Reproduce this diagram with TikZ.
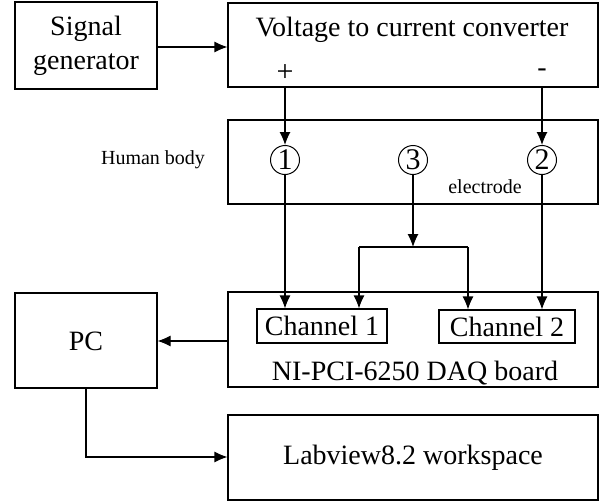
\documentclass[tikz,border=0pt]{standalone}
\usepackage{fontspec}
\setmainfont{Liberation Serif}
\usetikzlibrary{arrows.meta}
\begin{document}
\begin{tikzpicture}[x=1pt,y=-1pt,
  box/.style={draw,line width=1.1pt,rectangle,inner sep=0pt},
  chbox/.style={draw,line width=1.1pt,rectangle,inner sep=0pt,font=\fontsize{28}{34}\selectfont},
  big/.style={font=\fontsize{28}{34}\selectfont,inner sep=0pt,align=center},
  small/.style={font=\fontsize{20}{24}\selectfont,inner sep=0pt},
  elec/.style={draw,circle,line width=1pt,inner sep=0pt,minimum size=29pt,font=\fontsize{30}{32}\selectfont},
  arr/.style={line width=1.1pt,-{Latex[length=13pt,width=11pt]}},
  ln/.style={line width=1.1pt}]
\useasboundingbox (0,0) rectangle (604,503);
% boxes
\node[box,minimum width=142pt,minimum height=87pt] (sg) at (86,45.5) {};
\node[big] (sgt) at (86,46) {Signal\\generator};
\node[box,minimum width=370pt,minimum height=84pt] (vc) at (413,45) {};
\node[big] (vct) at (412,30) {Voltage to current converter};
\node[font=\fontsize{30}{32}\selectfont,inner sep=0pt] (plus) at (285,73) {+};
\node[font=\fontsize{28}{32}\selectfont,inner sep=0pt] (minus) at (542,73) {-};
\node[box,minimum width=370pt,minimum height=84pt] (hb) at (413,162) {};
\node[small] (hbt) at (153,160) {Human body};
\node[small] (el) at (485,187) {electrode};
\node[elec] (c1) at (285,160) {1};
\node[elec] (c3) at (413,160) {3};
\node[elec] (c2) at (542,160) {2};
\node[box,minimum width=370pt,minimum height=95pt] (daq) at (413,339.5) {};
\node[chbox,minimum width=130pt,minimum height=34pt] (ch1) at (322,326) {Channel 1};
\node[chbox,minimum width=136pt,minimum height=33pt] (ch2) at (507,326.5) {Channel 2};
\node[big] (daqt) at (415,373) {NI-PCI-6250 DAQ board};
\node[box,minimum width=142pt,minimum height=95pt] (pc) at (86,340.5) {};
\node[big] (pct) at (86,341) {PC};
\node[box,minimum width=370pt,minimum height=85pt] (lv) at (413,457.5) {};
\node[big] (lvt) at (413,458) {Labview8.2 workspace};
% connectors
\draw[arr] (sg.east |- 0,47) -- (vc.west |- 0,47);
\draw[arr] (vc.south -| c1) -- (c1.north);
\draw[arr] (vc.south -| c2) -- (c2.north);
\draw[arr] (c1.south) -- (c1 |- ch1.north);
\draw[arr] (c2.south) -- (c2 |- ch2.north);
\coordinate (j) at (413,247);
\coordinate (jl) at (359,247);
\coordinate (jr) at (468,247);
\draw[arr] (c3.south) -- (j);
\draw[ln] (jl) -- (jr);
\draw[arr] (jl) -- (jl |- ch1.north);
\draw[arr] (jr) -- (jr |- ch2.north);
\draw[arr] (daq.west |- 0,341) -- (pc.east |- 0,341);
\draw[arr] (pc.south) |- (lv.west |- 0,457);
\end{tikzpicture}
\end{document}
